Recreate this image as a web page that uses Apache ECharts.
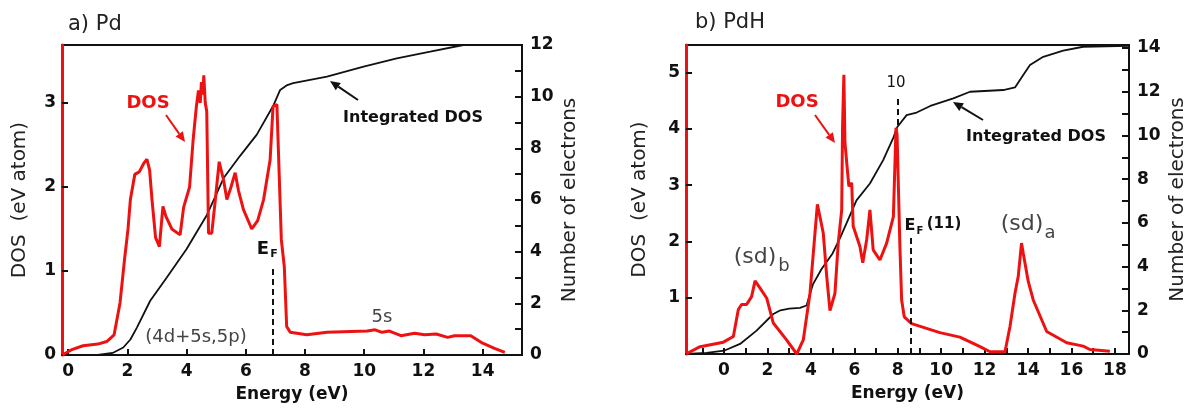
<!DOCTYPE html>
<html><head><meta charset="utf-8">
<script src="https://cdn.jsdelivr.net/npm/echarts@6/dist/echarts.min.js"></script>
<style>html,body{margin:0;padding:0;background:#fff}#c{width:1192px;height:415px}</style>
</head><body><div id="c"></div>
<script>
// ---------- DATA ----------
// a) Pd : DOS (states / eV atom) vs energy (eV)
const pdDOS = [[-0.2,0],[0.1,0.06],[0.5,0.11],[1.0,0.13],[1.3,0.16],[1.55,0.24],[1.75,0.62],[1.9,1.13],[2.02,1.5],[2.1,1.85],[2.25,2.15],[2.4,2.18],[2.55,2.28],[2.66,2.33],[2.75,2.2],[2.83,1.85],[2.95,1.4],[3.08,1.29],[3.2,1.77],[3.3,1.65],[3.5,1.5],[3.78,1.43],[3.9,1.76],[4.1,2.0],[4.22,2.56],[4.33,2.96],[4.4,3.15],[4.46,3.0],[4.5,3.25],[4.55,3.1],[4.58,3.33],[4.63,3.0],[4.68,2.9],[4.74,1.45],[4.85,1.45],[4.97,1.85],[5.1,2.3],[5.25,2.08],[5.36,1.85],[5.5,2.0],[5.64,2.17],[5.75,1.96],[5.92,1.73],[6.2,1.5],[6.4,1.6],[6.6,1.85],[6.82,2.32],[6.92,2.96],[7.05,2.98],[7.1,2.44],[7.2,1.37],[7.3,1.05],[7.38,0.34],[7.5,0.27],[8.06,0.24],[8.74,0.27],[10.1,0.285],[10.37,0.3],[10.6,0.27],[10.85,0.285],[11.24,0.23],[11.7,0.26],[12.04,0.24],[12.43,0.25],[12.82,0.21],[13.05,0.23],[13.6,0.23],[14.0,0.14],[14.4,0.08],[14.75,0.03]];
// a) Pd : integrated DOS (number of electrons)
const pdIntDOS = [[-0.2,0],[1.0,0],[1.5,0.08],[1.86,0.29],[2.1,0.6],[2.32,1.06],[2.77,2.1],[3.33,3.0],[4.0,4.1],[4.69,5.43],[5.25,6.85],[5.8,7.7],[6.37,8.53],[6.94,9.68],[7.16,10.26],[7.4,10.45],[7.6,10.52],[8.74,10.78],[9.98,11.16],[11.1,11.48],[12.23,11.74],[13.35,12.0],[15.33,12.0]];
// b) PdH : DOS
const pdhDOS = [[-1.75,0],[-1.1,0.13],[-0.03,0.21],[0.43,0.31],[0.66,0.79],[0.81,0.88],[1.04,0.88],[1.27,1.02],[1.43,1.3],[1.66,1.17],[1.97,0.99],[2.27,0.55],[2.88,0.25],[3.35,0.0],[3.65,0.25],[3.96,1.08],[4.19,2.15],[4.3,2.66],[4.57,2.15],[4.73,1.38],[4.88,0.77],[5.11,1.08],[5.26,1.97],[5.42,2.56],[5.46,4.04],[5.52,4.96],[5.57,3.75],[5.65,3.75],[5.75,2.98],[5.88,3.04],[5.95,2.27],[6.26,1.91],[6.39,1.62],[6.57,2.03],[6.72,2.56],[6.87,1.85],[7.18,1.67],[7.49,1.97],[7.8,2.44],[7.92,4.02],[7.97,3.9],[8.03,2.98],[8.1,1.91],[8.18,0.96],[8.3,0.66],[8.64,0.54],[9.94,0.38],[10.86,0.3],[11.79,0.13],[12.25,0.04],[12.94,0.04],[13.17,0.49],[13.4,1.08],[13.55,1.38],[13.7,1.97],[13.78,1.79],[14.01,1.29],[14.24,0.96],[14.86,0.4],[15.78,0.2],[16.54,0.14],[16.85,0.08],[17.77,0.05]];
// b) PdH : integrated DOS
const pdhIntDOS = [[-1.75,0],[-0.8,0.05],[0,0.15],[0.74,0.46],[1.5,1.07],[2.27,1.83],[2.6,2.0],[3.0,2.08],[3.5,2.11],[3.8,2.22],[4.1,3.2],[4.5,3.9],[5.0,4.6],[5.34,5.3],[5.65,6.0],[6.1,7.03],[6.72,7.8],[7.33,8.87],[7.8,9.9],[7.98,10.39],[8.41,10.93],[8.87,11.05],[9.5,11.35],[10.56,11.7],[11.33,12.0],[12.86,12.08],[13.4,12.2],[13.78,12.77],[14.09,13.22],[14.7,13.6],[15.62,13.88],[16.54,14.06],[18.65,14.1]];

// tick labels
const pdXLabels = [0,2,4,6,8,10,12,14];
const pdDosLabels = [0,1,2,3];
const pdElecLabels = [0,2,4,6,8,10,12];
const pdElecTicks = [0,1,2,3,4,5,6,7,8,9,10,11,12];
const pdhXLabels = [0,2,4,6,8,10,12,14,16,18];
const pdhXTicks = [-1,0,1,2,3,4,5,6,7,8,9,10,11,12,13,14,15,16,17,18];
const pdhDosLabels = [1,2,3,4,5];
const pdhDosTicks = [0,1,2,3,4,5];
const pdhElecLabels = [0,2,4,6,8,10,12,14];
const pdhElecTicks = [0,1,2,3,4,5,6,7,8,9,10,11,12,13,14];

// marker lines: [energy, dosFrom, dosTo]
const pdEF = [6.9, 0, 1.07];
const pdhEF = [8.6, 0, 2.12];
const pdhTen = [7.98, 4.07, 4.6];

// ---------- CHART ----------
const RED = '#ee1111', INK = '#111111';
const FONT = 'DejaVu Sans';
const chart = echarts.init(document.getElementById('c'));

function xAx(gi, min, max, labels, ticks) {
  return {
    type: 'value', gridIndex: gi, min, max,
    name: 'Energy (eV)', nameLocation: 'middle', nameGap: 31,
    nameTextStyle: {fontFamily: FONT, fontSize: 17, fontWeight: 'bold', color: INK},
    axisLine: {show: true, onZero: false, lineStyle: {color: INK, width: 2}},
    axisTick: {show: true, inside: true, length: 6, lineStyle: {color: INK, width: 2}, customValues: ticks},
    axisLabel: {customValues: labels, fontFamily: FONT, fontSize: 17, fontWeight: 'bold', color: INK, margin: 8},
    splitLine: {show: false}
  };
}
function yLeft(gi, max, labels, ticks, gap) {
  return {
    type: 'value', gridIndex: gi, min: 0, max, position: 'left',
    name: 'DOS  (eV atom)', nameLocation: 'middle', nameGap: gap,
    nameTextStyle: {fontFamily: FONT, fontSize: 20, color: '#222'},
    axisLine: {show: true, onZero: false, lineStyle: {color: RED, width: 3}},
    axisTick: {show: true, inside: true, length: 6, lineStyle: {color: INK, width: 2}, customValues: ticks},
    axisLabel: {customValues: labels, fontFamily: FONT, fontSize: 17, fontWeight: 'bold', color: INK, margin: 6},
    splitLine: {show: false}
  };
}
function yRight(gi, max, labels, ticks, gap) {
  return {
    type: 'value', gridIndex: gi, min: 0, max, position: 'right',
    name: 'Number of electrons', nameLocation: 'middle', nameGap: gap,
    nameTextStyle: {fontFamily: FONT, fontSize: 20, color: '#222'},
    axisLine: {show: true, onZero: false, lineStyle: {color: INK, width: 2}},
    axisTick: {show: true, inside: true, length: 7, lineStyle: {color: INK, width: 2}, customValues: ticks},
    axisLabel: {customValues: labels, fontFamily: FONT, fontSize: 17, fontWeight: 'bold', color: INK, margin: 8},
    splitLine: {show: false}
  };
}
function vlines(list) {
  return {
    symbol: 'none', silent: true, label: {show: false},
    lineStyle: {type: [6, 4], color: INK, width: 2},
    data: list.map(m => [{coord: [m[0], m[1]]}, {coord: [m[0], m[2]]}])
  };
}
function txt(x, y, text, opt) {
  opt = opt || {};
  return {type: 'text', x, y, z: 100, style: {
    text, fill: opt.color || '#333', fontFamily: FONT, fontSize: opt.size || 18,
    fontWeight: opt.weight || 'normal', align: opt.align || 'center', verticalAlign: 'middle'
  }};
}
function arrow(x1, y1, x2, y2, color) {
  const a = Math.atan2(y2 - y1, x2 - x1), L = 10, W = 4.5;
  const bx = x2 - L * Math.cos(a), by = y2 - L * Math.sin(a);
  return [
    {type: 'line', z: 100, shape: {x1, y1, x2: bx, y2: by}, style: {stroke: color, lineWidth: 2}},
    {type: 'polygon', z: 100, shape: {points: [[x2, y2], [bx + W * Math.sin(a), by - W * Math.cos(a)], [bx - W * Math.sin(a), by + W * Math.cos(a)]]}, style: {fill: color}}
  ];
}

const graphics = [
  txt(68, 25, 'a) Pd', {size: 21, align: 'left', color: '#222'}),
  txt(148, 103, 'DOS', {size: 18, weight: 'bold', color: RED}),
  ...arrow(166, 115, 185, 142, RED),
  txt(413, 118, 'Integrated DOS', {size: 16, weight: 'bold', color: INK}),
  ...arrow(358, 100, 330, 81, INK),
  txt(263, 249, 'E', {size: 18, weight: 'bold', color: INK}),
  txt(274, 254, 'F', {size: 11, weight: 'bold', color: INK}),
  txt(196, 337, '(4d+5s,5p)', {size: 18, color: '#444'}),
  txt(382, 317, '5s', {size: 18, color: '#444'}),

  txt(695, 23, 'b) PdH', {size: 21, align: 'left', color: '#222'}),
  txt(797, 102, 'DOS', {size: 18, weight: 'bold', color: RED}),
  ...arrow(815, 115, 835, 143, RED),
  txt(896, 83, '10', {size: 15, color: INK}),
  txt(910, 226, 'E', {size: 16, weight: 'bold', color: INK}),
  txt(920, 231, 'F', {size: 10, weight: 'bold', color: INK}),
  txt(944, 224, '(11)', {size: 15, weight: 'bold', color: INK}),
  txt(755, 257, '(sd)', {size: 22, color: '#444'}),
  txt(784, 266, 'b', {size: 18, color: '#444'}),
  txt(1022, 224, '(sd)', {size: 22, color: '#444'}),
  txt(1050, 233, 'a', {size: 18, color: '#444'}),
  txt(1036, 137, 'Integrated DOS', {size: 16, weight: 'bold', color: INK}),
  ...arrow(983, 120, 953, 102, INK)
];

const gridStyle = {show: true, borderColor: INK, borderWidth: 2, backgroundColor: 'transparent', containLabel: false};

chart.setOption({
  animation: false,
  backgroundColor: '#fff',
  grid: [
    Object.assign({left: 62, top: 45, width: 460, height: 310}, gridStyle),
    Object.assign({left: 686, top: 45, width: 443, height: 309}, gridStyle)
  ],
  xAxis: [
    xAx(0, -0.21, 15.33, pdXLabels, pdXLabels),
    xAx(1, -1.75, 18.65, pdhXLabels, pdhXTicks)
  ],
  yAxis: [
    yLeft(0, 3.69, pdDosLabels, pdDosLabels, 32),
    yRight(0, 12, pdElecLabels, pdElecTicks, 38),
    yLeft(1, 5.49, pdhDosLabels, pdhDosTicks, 36),
    yRight(1, 14.14, pdhElecLabels, pdhElecTicks, 39)
  ],
  series: [
    {type: 'line', xAxisIndex: 0, yAxisIndex: 1, data: pdIntDOS, showSymbol: false, lineStyle: {color: INK, width: 1.8}, z: 2},
    {type: 'line', xAxisIndex: 0, yAxisIndex: 0, data: pdDOS, showSymbol: false, lineStyle: {color: RED, width: 3}, z: 3, markLine: vlines([pdEF])},
    {type: 'line', xAxisIndex: 1, yAxisIndex: 3, data: pdhIntDOS, showSymbol: false, lineStyle: {color: INK, width: 1.8}, z: 2},
    {type: 'line', xAxisIndex: 1, yAxisIndex: 2, data: pdhDOS, showSymbol: false, lineStyle: {color: RED, width: 3}, z: 3, markLine: vlines([pdhEF, pdhTen])}
  ],
  graphic: graphics
});
</script>
</body></html>
